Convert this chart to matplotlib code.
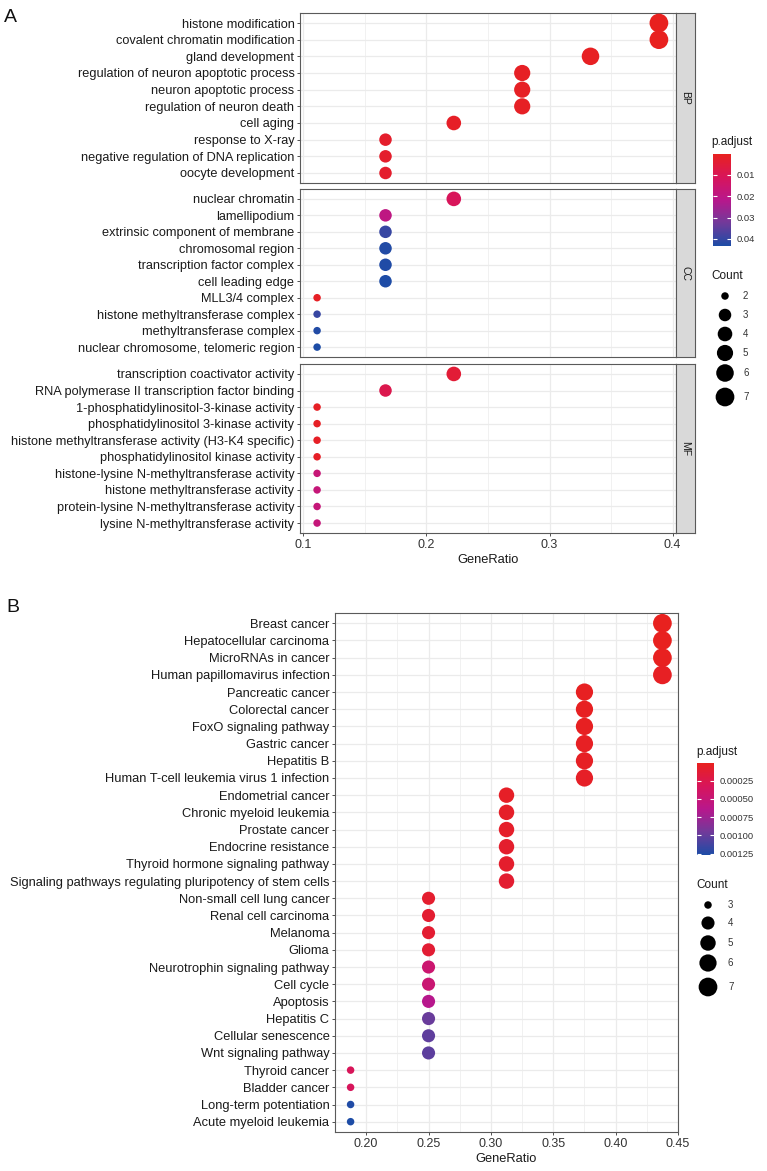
import numpy as np
import matplotlib
matplotlib.use("Agg")
import matplotlib.pyplot as plt
import matplotlib as mpl
from matplotlib.colors import LinearSegmentedColormap, Normalize

plt.rcParams['font.family'] = ['Liberation Sans', 'DejaVu Sans']

W, H, DPI = 767, 1171, 100

# ---------------- Panel A data ----------------
A_BP_terms = ["histone modification", "covalent chromatin modification", "gland development",
              "regulation of neuron apoptotic process", "neuron apoptotic process",
              "regulation of neuron death", "cell aging", "response to X-ray",
              "negative regulation of DNA replication", "oocyte development"]
A_BP_ratio = [0.3889, 0.3889, 0.3333, 0.2778, 0.2778, 0.2778, 0.2222, 0.1667, 0.1667, 0.1667]
A_BP_count = [7, 7, 6, 5, 5, 5, 4, 3, 3, 3]
A_BP_padj = [0.00022, 0.00025, 0.0009, 0.0013, 0.0013, 0.0014, 0.0018, 0.0026, 0.0027, 0.0028]

A_CC_terms = ["nuclear chromatin", "lamellipodium", "extrinsic component of membrane",
              "chromosomal region", "transcription factor complex", "cell leading edge",
              "MLL3/4 complex", "histone methyltransferase complex", "methyltransferase complex",
              "nuclear chromosome, telomeric region"]
A_CC_ratio = [0.2222, 0.1667, 0.1667, 0.1667, 0.1667, 0.1667, 0.1111, 0.1111, 0.1111, 0.1111]
A_CC_count = [4, 3, 3, 3, 3, 3, 2, 2, 2, 2]
A_CC_padj = [0.0110, 0.0196, 0.0398, 0.0425, 0.0428, 0.0430, 0.0015, 0.0398, 0.0425, 0.0433]

A_MF_terms = ["transcription coactivator activity", "RNA polymerase II transcription factor binding",
              "1-phosphatidylinositol-3-kinase activity", "phosphatidylinositol 3-kinase activity",
              "histone methyltransferase activity (H3-K4 specific)", "phosphatidylinositol kinase activity",
              "histone-lysine N-methyltransferase activity", "histone methyltransferase activity",
              "protein-lysine N-methyltransferase activity", "lysine N-methyltransferase activity"]
A_MF_ratio = [0.2222, 0.1667, 0.1111, 0.1111, 0.1111, 0.1111, 0.1111, 0.1111, 0.1111, 0.1111]
A_MF_count = [4, 3, 2, 2, 2, 2, 2, 2, 2, 2]
A_MF_padj = [0.0045, 0.0088, 0.0015, 0.0015, 0.0016, 0.0017, 0.0172, 0.0174, 0.0175, 0.0176]

A_facets = ["BP", "CC", "MF"]
A_xticks = [0.1, 0.2, 0.3, 0.4]
A_xticklabels = ["0.1", "0.2", "0.3", "0.4"]
A_cbar_ticks = [0.01, 0.02, 0.03, 0.04]
A_cbar_labels = ["0.01", "0.02", "0.03", "0.04"]
A_count_legend = [2, 3, 4, 5, 6, 7]

# ---------------- Panel B data ----------------
B_terms = ["Breast cancer", "Hepatocellular carcinoma", "MicroRNAs in cancer",
           "Human papillomavirus infection", "Pancreatic cancer", "Colorectal cancer",
           "FoxO signaling pathway", "Gastric cancer", "Hepatitis B",
           "Human T-cell leukemia virus 1 infection", "Endometrial cancer",
           "Chronic myeloid leukemia", "Prostate cancer", "Endocrine resistance",
           "Thyroid hormone signaling pathway",
           "Signaling pathways regulating pluripotency of stem cells",
           "Non-small cell lung cancer", "Renal cell carcinoma", "Melanoma", "Glioma",
           "Neurotrophin signaling pathway", "Cell cycle", "Apoptosis", "Hepatitis C",
           "Cellular senescence", "Wnt signaling pathway", "Thyroid cancer", "Bladder cancer",
           "Long-term potentiation", "Acute myeloid leukemia"]
B_ratio = [0.4375, 0.4375, 0.4375, 0.4375,
           0.375, 0.375, 0.375, 0.375, 0.375, 0.375,
           0.3125, 0.3125, 0.3125, 0.3125, 0.3125, 0.3125,
           0.25, 0.25, 0.25, 0.25, 0.25, 0.25, 0.25, 0.25, 0.25, 0.25,
           0.1875, 0.1875, 0.1875, 0.1875]
B_count = [7, 7, 7, 7, 6, 6, 6, 6, 6, 6, 5, 5, 5, 5, 5, 5,
           4, 4, 4, 4, 4, 4, 4, 4, 4, 4, 3, 3, 3, 3]
B_padj = [0.000005, 0.000008, 0.00001, 0.00003, 0.00002, 0.00002, 0.00002, 0.00003, 0.00004,
          0.00005, 0.00005, 0.00006, 0.00007, 0.00008, 0.00008, 0.0001,
          0.00009, 0.0001, 0.00011, 0.00012, 0.00045, 0.00047, 0.00064, 0.00098, 0.00102,
          0.00103, 0.00032, 0.00033, 0.00126, 0.00127]
B_xticks = [0.20, 0.25, 0.30, 0.35, 0.40, 0.45]
B_xticklabels = ["0.20", "0.25", "0.30", "0.35", "0.40", "0.45"]
B_cbar_ticks = [0.00025, 0.00050, 0.00075, 0.00100, 0.00125]
B_cbar_labels = ["0.00025", "0.00050", "0.00075", "0.00100", "0.00125"]
B_count_legend = [3, 4, 5, 6, 7]

# ---------------- styling ----------------
GRAD_COLORS = ["#E8211F", "#D8155A", "#B8178C", "#713A9A", "#1D4CA6"]
cmap = LinearSegmentedColormap.from_list("padj", GRAD_COLORS)
GRID = '#EBEBEB'
BORDER = '#5A5A5A'
TEXT = '#1A1A1A'

fig = plt.figure(figsize=(W / DPI, H / DPI), dpi=DPI)


def rect(l, t, r, b):
    return [l / W, 1 - b / H, (r - l) / W, (b - t) / H]


def diam_px(c, cmin, cmax):
    c = np.asarray(c, dtype=float)
    return 0.79 * (2.845 * (3 + 5 * np.sqrt((c - cmin) / (cmax - cmin))) + 0.945)


def s_from_d(d):
    return (np.asarray(d) * 72 / DPI) ** 2


def expand(vals, frac=0.05):
    lo, hi = min(vals), max(vals)
    r = hi - lo
    return lo - frac * r, hi + frac * r


def style_axes(ax, xlim, xmaj, xminr, xlabels, nrows, ylabels, ysize, show_x):
    ax.set_xlim(*xlim)
    ax.set_ylim(nrows - 1 + 0.6, -0.6)
    ax.set_xticks(xmaj)
    ax.set_xticks(xminr, minor=True)
    ax.set_yticks(range(nrows))
    ax.set_yticklabels(ylabels, fontsize=ysize, color=TEXT)
    ax.grid(which='major', color=GRID, lw=0.9)
    ax.grid(which='minor', axis='x', color=GRID, lw=0.5)
    ax.set_axisbelow(True)
    for sp in ax.spines.values():
        sp.set_color(BORDER)
        sp.set_linewidth(0.8)
    ax.tick_params(axis='y', length=2.5, width=0.6, color='#333333', pad=1.5)
    ax.tick_params(which='minor', length=0)
    if show_x:
        ax.set_xticklabels(xlabels, fontsize=9, color='#333333')
        ax.tick_params(axis='x', which='major', length=2.5, width=0.6, color='#333333', pad=2)
    else:
        ax.tick_params(axis='x', which='both', length=0, labelbottom=False)


# overlay for legends / free text
ov = fig.add_axes([0, 0, 1, 1], zorder=5)
ov.set_xlim(0, W)
ov.set_ylim(H, 0)
ov.axis('off')
ov.patch.set_visible(False)

# ---------------- Panel A ----------------
A_all_ratio = A_BP_ratio + A_CC_ratio + A_MF_ratio
A_all_count = A_BP_count + A_CC_count + A_MF_count
A_all_padj = A_BP_padj + A_CC_padj + A_MF_padj
A_xlim = expand(A_all_ratio)
A_norm = Normalize(min(A_all_padj), max(A_all_padj))
A_cmin, A_cmax = min(A_all_count), max(A_all_count)

A_data = [(A_BP_terms, A_BP_ratio, A_BP_count, A_BP_padj),
          (A_CC_terms, A_CC_ratio, A_CC_count, A_CC_padj),
          (A_MF_terms, A_MF_ratio, A_MF_count, A_MF_padj)]
A_bounds = [(13, 183), (189, 357), (364, 533)]
A_left, A_right, A_strip = 300, 676, 695

for i, ((terms, ratio, count, padj), (t, b), lab) in enumerate(zip(A_data, A_bounds, A_facets)):
    ax = fig.add_axes(rect(A_left, t, A_right, b))
    style_axes(ax, A_xlim, A_xticks, [0.15, 0.25, 0.35], A_xticklabels,
               len(terms), terms, 9.2, show_x=(i == 2))
    ax.scatter(ratio, range(len(terms)), s=s_from_d(diam_px(count, A_cmin, A_cmax)),
               c=padj, cmap=cmap, norm=A_norm, linewidths=0, zorder=3)
    sax = fig.add_axes(rect(A_right, t, A_strip, b))
    sax.set_facecolor('#D9D9D9')
    sax.set_xticks([])
    sax.set_yticks([])
    for sp in sax.spines.values():
        sp.set_color(BORDER)
        sp.set_linewidth(0.8)
    sax.text(0.5, 0.5, lab, rotation=-90, ha='center', va='center', fontsize=7.5,
             color=TEXT, transform=sax.transAxes)

ov.text((A_left + A_right) / 2, 560, "GeneRatio", ha='center', va='center', fontsize=9.3, color=TEXT)
ov.text(4, 18, "A", ha='left', va='center', fontsize=14, color='#111111')


def draw_colorbar(l, t, r, b, norm, ticks, labels):
    cax = fig.add_axes(rect(l, t, r, b))
    cb = mpl.colorbar.ColorbarBase(cax, cmap=cmap, norm=norm, orientation='vertical')
    cax.invert_yaxis()
    cb.set_ticks(ticks)
    cb.set_ticklabels(labels)
    cb.outline.set_visible(False)
    cax.minorticks_off()
    cax.yaxis.set_ticks_position('both')
    cax.tick_params(which='major', direction='in', length=3, width=0.8, color='white',
                    labelcolor='#333333', labelsize=6.8, pad=4,
                    labelleft=False, labelright=True)
    return cax


# legend A
ov.text(711, 142, "p.adjust", ha='left', va='center', fontsize=8.5, color=TEXT)
draw_colorbar(713, 154, 731, 246, A_norm, A_cbar_ticks, A_cbar_labels)
ov.text(711, 276, "Count", ha='left', va='center', fontsize=8.5, color=TEXT)
A_leg_y = [296, 315, 334, 353, 373, 397]
ov.scatter([725] * len(A_count_legend), A_leg_y,
           s=s_from_d(diam_px(A_count_legend, A_cmin, A_cmax)), c='black', linewidths=0)
for c, y in zip(A_count_legend, A_leg_y):
    ov.text(743, y, str(c), ha='left', va='center', fontsize=7, color='#333333')

# ---------------- Panel B ----------------
B_xlim = expand(B_ratio)
B_norm = Normalize(min(B_padj), max(B_padj))
B_cmin, B_cmax = min(B_count), max(B_count)
B_left, B_top, B_right, B_bottom = 335, 613, 678, 1132

axb = fig.add_axes(rect(B_left, B_top, B_right, B_bottom))
style_axes(axb, B_xlim, B_xticks, [0.175, 0.225, 0.275, 0.325, 0.375, 0.425], B_xticklabels,
           len(B_terms), B_terms, 9.3, show_x=True)
axb.scatter(B_ratio, range(len(B_terms)), s=s_from_d(diam_px(B_count, B_cmin, B_cmax)),
            c=B_padj, cmap=cmap, norm=B_norm, linewidths=0, zorder=3)

ov.text((B_left + B_right) / 2, 1159, "GeneRatio", ha='center', va='center', fontsize=9.3, color=TEXT)
ov.text(6, 608, "B", ha='left', va='center', fontsize=14, color='#111111')

# legend B
ov.text(696, 752, "p.adjust", ha='left', va='center', fontsize=8.5, color=TEXT)
draw_colorbar(697, 763, 714, 855, B_norm, B_cbar_ticks, B_cbar_labels)
ov.text(696, 885, "Count", ha='left', va='center', fontsize=8.5, color=TEXT)
B_leg_y = [905, 923, 943, 963, 987]
ov.scatter([708] * len(B_count_legend), B_leg_y,
           s=s_from_d(diam_px(B_count_legend, B_cmin, B_cmax)), c='black', linewidths=0)
for c, y in zip(B_count_legend, B_leg_y):
    ov.text(728, y, str(c), ha='left', va='center', fontsize=7, color='#333333')

fig.savefig("out.png", dpi=DPI)
